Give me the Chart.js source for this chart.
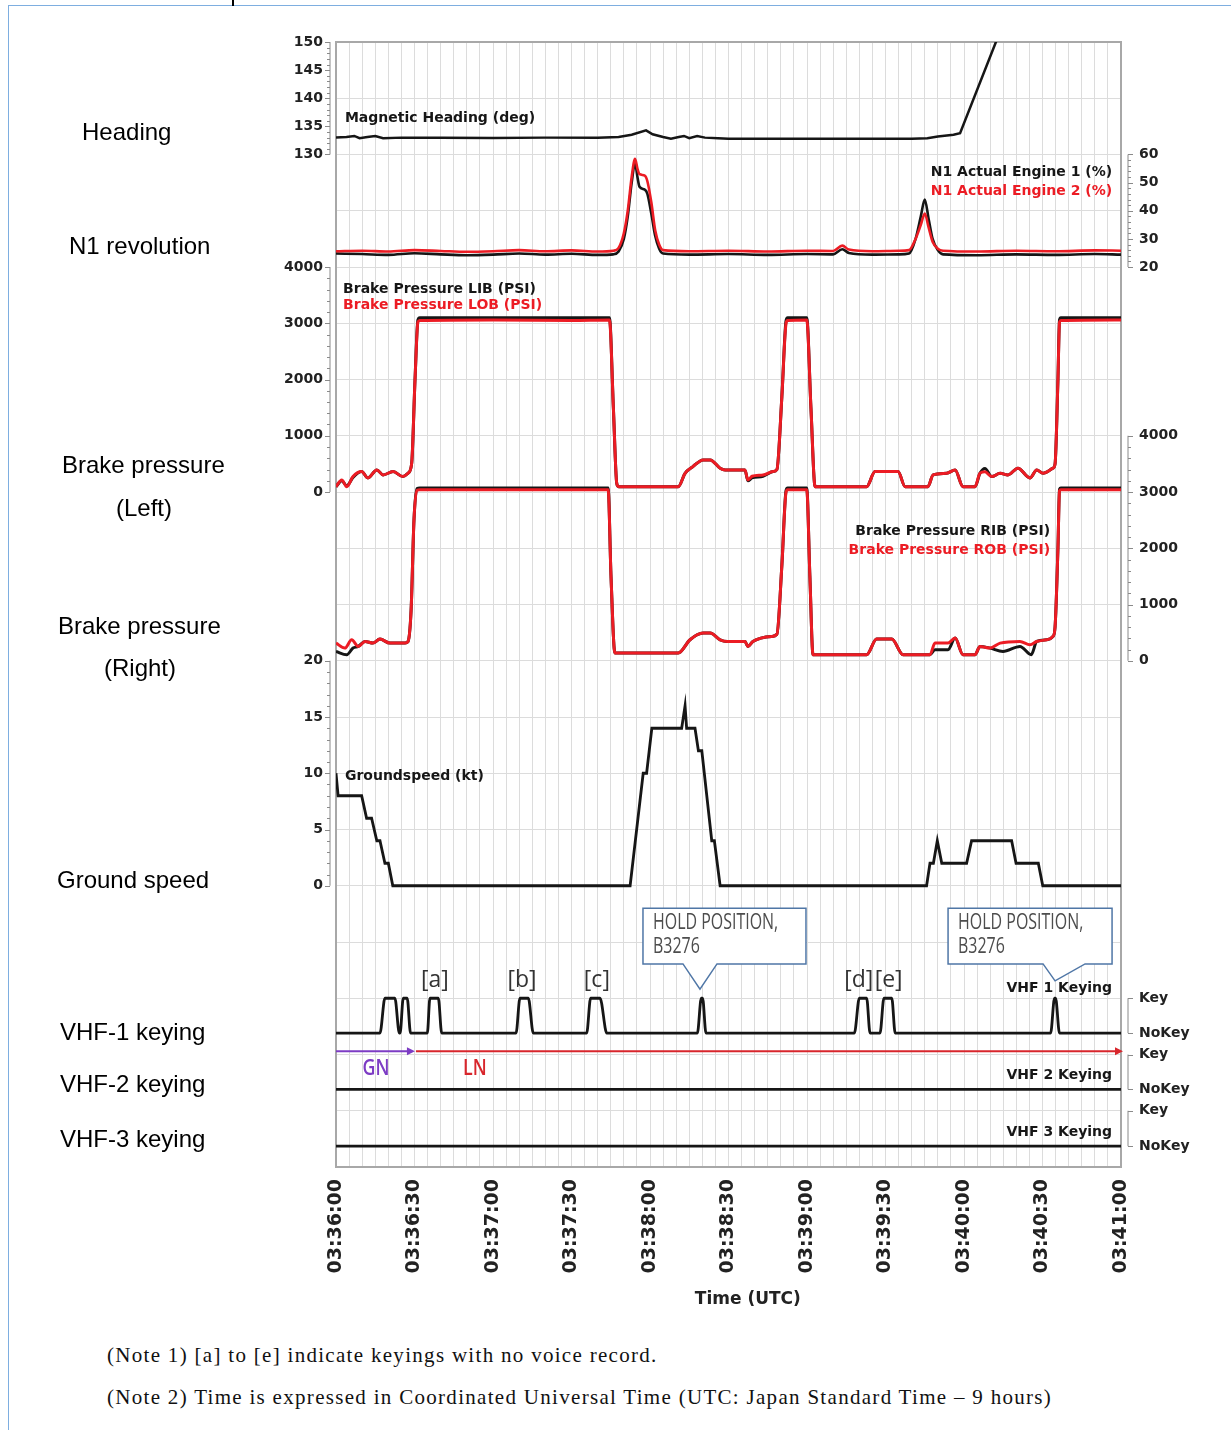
<!DOCTYPE html>
<html lang="en">
<head>
  <meta charset="UTF-8">
  <title>Heading, N1, brake pressure, groundspeed and VHF keying</title>
  <script src="https://cdn.jsdelivr.net/npm/chart.js@4/dist/chart.umd.min.js"></script>
  <style>
    body {
      margin: 0;
      width: 1231px;
      height: 1430px;
      position: relative;
      overflow: hidden;
      background: #fff;
      font-family: "Liberation Sans", Arial, sans-serif;
    }
    .frame {
      position: absolute;
      left: 8px; top: 5px; right: -2px; bottom: -2px;
      border-top: 1.5px solid #7eaee0;
      border-left: 1.5px solid #7eaee0;
    }
    .cellTick {
      position: absolute;
      left: 232px; top: 0;
      width: 2px; height: 6px;
      background: #000;
    }
    #chartBox {
      position: absolute;
      left: 0; top: 0;
    }
    .side {
      position: absolute;
      font-size: 24px;
      line-height: 1;
      color: #000;
      white-space: nowrap;
      transform: translateY(-50%);
    }
    .note {
      position: absolute;
      left: 107px;
      font-family: "Liberation Serif", "Times New Roman", serif;
      font-size: 21px;
      letter-spacing: 1.3px;
      line-height: 1;
      color: #111;
      white-space: nowrap;
      transform: translateY(-50%);
    }
  </style>
</head>
<body>
<div class="frame"></div>
<div class="cellTick"></div>

<div id="chartBox">
  <canvas id="fdrChart" width="1231" height="1330"></canvas>
</div>

<div class="side" style="left:82px; top:132px;">Heading</div>
<div class="side" style="left:69px; top:246px;">N1 revolution</div>
<div class="side" style="left:62px; top:465px;">Brake pressure</div>
<div class="side" style="left:116px; top:508px;">(Left)</div>
<div class="side" style="left:58px; top:626px;">Brake pressure</div>
<div class="side" style="left:104px; top:668px;">(Right)</div>
<div class="side" style="left:57px; top:880px;">Ground speed</div>
<div class="side" style="left:60px; top:1032px;">VHF-1 keying</div>
<div class="side" style="left:60px; top:1084px;">VHF-2 keying</div>
<div class="side" style="left:60px; top:1139px;">VHF-3 keying</div>

<div class="note" style="top:1355px;">(Note 1) [a] to [e] indicate keyings with no voice record.</div>
<div class="note" style="top:1397px;">(Note 2) Time is expressed in Coordinated Universal Time (UTC: Japan Standard Time – 9 hours)</div>

<script>
  // x values are seconds after 03:36:00 UTC
  const timeLabels = ['03:36:00', '03:36:30', '03:37:00', '03:37:30', '03:38:00', '03:38:30',
                      '03:39:00', '03:39:30', '03:40:00', '03:40:30', '03:41:00'];

  const magHeading = [[0,133.0],[4,133.1],[7,133.3],[9,132.9],[12,133.1],[15,133.3],[18,132.9],[25,133.0],
    [40,133.0],[60,132.95],[80,133.0],[100,133.0],[108,133.1],[113,133.5],[118.5,134.3],[121,133.6],
    [125,133.1],[128,132.8],[131,133.1],[133,133.3],[135,132.9],[138,133.3],[141,133.0],[146,132.9],
    [150,132.8],[170,132.8],[200,132.8],[220,132.8],[226,132.9],[230,133.2],[236,133.5],[238.5,133.8],
    [252.2,150],[256,155]];

  const n1Eng1 = [[0,24.8],[10,24.6],[20,24.3],[30,24.9],[40,24.5],[50,24.2],[60,24.4],[70,24.8],[80,24.4],
    [90,24.7],[100,24.3],[106,24.5],[108,25.5],[110,30],[111.5,38],[113,50],[114.3,57],[115.2,52],[116,48.5],
    [118,47.5],[119,46],[120.5,39],[122,31],[123.5,26.5],[125,24.8],[135,24.4],[150,24.6],[165,24.3],
    [180,24.6],[190,24.5],[193.5,26.3],[196,25],[205,24.4],[215,24.5],[219,24.8],[221.5,30],[223.5,38],
    [225,44],[226.5,37],[228,30],[230,26],[232,24.5],[245,24.2],[260,24.5],[275,24.3],[290,24.6],[300,24.4]];
  const n1Eng2 = [[0,25.6],[10,25.8],[20,25.5],[30,26],[40,25.7],[50,25.4],[60,25.6],[70,26],[80,25.6],
    [90,25.9],[100,25.5],[106,25.8],[108,26.8],[110,32],[111.5,40],[113,52],[114.3,58.5],[115.2,55],[116,53],
    [118,52.5],[119,50.5],[120.5,43],[122,33],[123.5,28],[125,26],[135,25.6],[150,25.8],[165,25.5],
    [180,25.8],[190,25.7],[193.5,27.6],[196,26.2],[205,25.6],[215,25.8],[219,26],[221.5,30],[223.5,35],
    [225,39],[226.5,34],[228,29],[230,26.5],[232,25.8],[245,25.5],[260,25.8],[275,25.6],[290,25.9],[300,25.8]];

  const brakeLIB = [[0,95],[2.2,200],[4.1,110],[6.5,260],[9.8,363],[12.2,250],[15.6,393],[18,304],[21.8,363],
    [25.6,274],[27.5,333],[28.9,500],[30.2,2000],[31.3,3060],[32,3100],[60,3100],[90,3100],[104.5,3100],
    [106,1500],[107.3,150],[108,95],[130.8,95],[133.4,333],[136.4,452],[140.3,571],[143,571],[146.8,423],
    [148.7,393],[156.3,393],[157.4,200],[159,250],[163.2,280],[167,363],[168.5,400],[170.4,1700],[172,3050],
    [172.6,3100],[179.9,3100],[181.5,1500],[183.1,95],[202.8,95],[206,363],[214.8,363],[217.5,95],[226.2,95],
    [228.2,304],[233.4,333],[236.6,393],[239.6,95],[244.2,95],[246.1,333],[248,420],[250.6,274],[253.8,333],
    [256.8,304],[260.6,423],[265.2,250],[267.8,393],[270.2,333],[274,423],[274.8,500],[275.9,2000],
    [276.5,3060],[277,3100],[300,3100]];
  const brakeLOB = [[0,95],[2.2,214],[4.1,95],[6.5,274],[9.8,363],[12.2,250],[15.6,393],[18,304],[21.8,363],
    [25.6,274],[27.5,333],[28.9,500],[30.2,2000],[31.3,3020],[32,3050],[60,3060],[90,3050],[104.5,3060],
    [106,1500],[107.3,150],[108,95],[130.8,95],[133.4,333],[136.4,452],[140.3,571],[143,571],[146.8,423],
    [148.7,393],[156.3,393],[157.4,214],[159,280],[163.2,304],[167,363],[168.5,400],[170.4,1700],[172,3000],
    [172.6,3050],[179.9,3060],[181.5,1500],[183.1,95],[202.8,95],[206,363],[214.8,363],[217.5,95],[226.2,95],
    [228.2,304],[233.4,333],[236.6,393],[239.6,95],[244.2,95],[246.1,333],[248,360],[250.6,274],[253.8,333],
    [256.8,304],[260.6,423],[265.2,250],[267.8,393],[270.2,333],[274,423],[274.8,500],[275.9,2000],
    [276.5,3020],[277,3050],[300,3060]];

  const brakeRIB = [[0,166],[4.1,107],[6.5,225],[8.5,254],[11.1,343],[14.1,314],[16.8,385],[20.6,314],[26.4,314],
    [27.5,340],[28.7,900],[29.8,2500],[31,3060],[32,3070],[104,3070],[105.1,1500],[106.6,137],[130.8,137],
    [135.3,373],[140.3,492],[143,492],[146.8,373],[149.5,343],[156.3,343],[157.4,254],[159.3,343],[166.5,432],
    [168.5,470],[170.4,1700],[172,3030],[172.6,3070],[179.9,3070],[181.1,1500],[182.3,107],[202.8,107],
    [206.6,385],[212.4,385],[216.7,107],[227,107],[228.9,196],[233.9,196],[236.6,403],[239.6,107],[244.2,107],
    [246.1,254],[249.9,225],[254.9,166],[261.4,254],[265.7,107],[267.8,343],[271.6,373],[274,432],[274.8,600],
    [275.9,2000],[276.5,3050],[277,3070],[300,3070]];
  const brakeROB = [[0,314],[3.4,225],[6,373],[8.5,254],[11.1,343],[14.1,314],[16.8,385],[20.6,314],[26.4,314],
    [27.5,340],[28.7,900],[29.8,2500],[31,3030],[32,3040],[104,3040],[105.1,1500],[106.6,137],[130.8,137],
    [135.3,373],[140.3,492],[143,492],[146.8,373],[149.5,343],[156.3,343],[157.4,254],[159.3,343],[166.5,432],
    [168.5,470],[170.4,1700],[172,3000],[172.6,3040],[179.9,3040],[181.1,1500],[182.3,107],[202.8,107],
    [206.6,385],[212.4,385],[216.7,107],[227,107],[228.9,314],[233.9,314],[236.6,403],[239.6,107],[244.2,107],
    [246.1,254],[249.9,225],[253.8,314],[261.4,343],[265.2,284],[267.8,343],[271.6,373],[274,432],[274.8,600],
    [275.9,2000],[276.5,3020],[277,3040],[300,3040]];

  const groundspeed = [[0,10],[0.8,8],[9.8,8],[11.7,6],[13.6,6],[15.6,4],[16.8,4],[18.7,2],[20,2],[21.7,0],
    [112.4,0],[117.4,10],[118.7,10],[120.7,14],[132.1,14],[133.4,16],[134,14],[137.2,14],[138.5,12],[139.8,12],
    [143.6,4],[144.6,4],[146.8,0],[225.7,0],[227,2],[228.3,2],[229.8,4],[231.5,2],[241,2],[242.9,4],[258.2,4],
    [259.9,2],[268.4,2],[270.1,0],[300,0]];

  // 1 = Key, 0 = NoKey
  const vhf1Keying = [[0,0],[16.8,0],[18.7,1],[22.5,1],[24.2,0],[24.5,0],[25.7,1],[27.2,1],[28.5,0],
    [34.9,0],[35.9,1],[39.1,1],[40.4,0],[68.8,0],[70.3,1],[73.5,1],[75.4,0],[95.8,0],[97.3,1],[100.9,1],
    [103.5,0],[138.1,0],[139.6,1],[140.1,1],[141.4,0],[198.1,0],[200,1],[202.8,1],[204.1,0],[207.9,0],
    [209.4,1],[212.4,1],[213.7,0],[273.1,0],[274.6,1],[275,1],[276.5,0],[300,0]];
  const vhf2Keying = [[0,0],[300,0]];
  const vhf3Keying = [[0,0],[300,0]];

  const headingTicks = [130, 135, 140, 145, 150];
  const n1Ticks = [20, 30, 40, 50, 60];
  const brakeTicks = [0, 1000, 2000, 3000, 4000];
  const speedTicks = [0, 5, 10, 15, 20];
  const keyTicks = [0, 1];
  const keyNames = ['NoKey', 'Key'];

  const seriesNames = ['Magnetic Heading (deg)', 'N1 Actual Engine 1 (%)', 'N1 Actual Engine 2 (%)',
    'Brake Pressure LIB (PSI)', 'Brake Pressure LOB (PSI)', 'Brake Pressure RIB (PSI)',
    'Brake Pressure ROB (PSI)', 'Groundspeed (kt)', 'VHF 1 Keying', 'VHF 2 Keying', 'VHF 3 Keying'];
  const keyingMarks = ['[a]', '[b]', '[c]', '[d]', '[e]'];
  const holdText = ['HOLD POSITION,', 'B3276'];
  const freqNames = ['GN', 'LN'];
  const xTitle = 'Time (UTC)';

  // ---------- layout ----------
  const BLACK = '#161616', RED = '#ec1c24', PURPLE = '#7d3cc4', LNRED = '#d8262c';
  const ROWS = 20;  // the plot is a 20 row grid, each panel owns a band of rows
  const bands = {
    hdg:  { top: 0,  bot: 2,     vTop: 150,  vBot: 130, side: 'left',  ticks: headingTicks, minor: 5 },
    n1:   { top: 2,  bot: 4,     vTop: 60,   vBot: 20,  side: 'right', ticks: n1Ticks,      minor: 5 },
    brkL: { top: 4,  bot: 8,     vTop: 4000, vBot: 0,   side: 'left',  ticks: brakeTicks,   minor: 5 },
    brkR: { top: 7,  bot: 11,    vTop: 4000, vBot: 0,   side: 'right', ticks: brakeTicks,   minor: 5 },
    gs:   { top: 11, bot: 15,    vTop: 20,   vBot: 0,   side: 'left',  ticks: speedTicks,   minor: 5 },
    vhf1: { top: 17, bot: 17.62, vTop: 1,    vBot: 0,   side: 'right', ticks: keyTicks,     minor: 0, names: keyNames },
    vhf2: { top: 18, bot: 18.62, vTop: 1,    vBot: 0,   side: 'right', ticks: keyTicks,     minor: 0, names: keyNames },
    vhf3: { top: 19, bot: 19.63, vTop: 1,    vBot: 0,   side: 'right', ticks: keyTicks,     minor: 0, names: keyNames }
  };

  // where the in-plot series names sit (time, value on the series' own axis)
  const nameSpots = [
    { axis: 'hdg',  t: 3.4,   v: 136.5, align: 'left',  color: BLACK },
    { axis: 'n1',   t: 296.6, v: 53.6,  align: 'right', color: BLACK },
    { axis: 'n1',   t: 296.6, v: 46.9,  align: 'right', color: RED },
    { axis: 'brkL', t: 2.7,   v: 3607,  align: 'left',  color: BLACK },
    { axis: 'brkL', t: 2.7,   v: 3321,  align: 'left',  color: RED },
    { axis: 'brkR', t: 272.9, v: 2293,  align: 'right', color: BLACK },
    { axis: 'brkR', t: 272.9, v: 1956,  align: 'right', color: RED },
    { axis: 'gs',   t: 3.4,   v: 9.7,   align: 'left',  color: BLACK },
    { axis: 'vhf1', t: 296.6, v: 1.29,  align: 'right', color: BLACK },
    { axis: 'vhf2', t: 296.6, v: 0.41,  align: 'right', color: BLACK },
    { axis: 'vhf3', t: 296.6, v: 0.39,  align: 'right', color: BLACK }
  ];
  const markSpots = [37.8, 71.1, 99.7, 199.8, 211.2];
  const holdSpots = [
    { t: 139.1, left: -57,  right: 106, baseL: -17, baseR: 17, tipRow: 16.84 },
    { t: 274.8, left: -107, right: 57,  baseL: -12, baseR: 30, tipRow: 16.69 }
  ];

  function axisRange(b) {
    const per = (b.vTop - b.vBot) / (b.bot - b.top);
    return { min: b.vBot - (ROWS - b.bot) * per, max: b.vTop + b.top * per };
  }

  // every panel axis spans the whole plot height; only its own band gets a ruler and labels
  function yAxis(id) {
    const r = axisRange(bands[id]);
    return {
      type: 'linear',
      position: bands[id].side,
      min: r.min,
      max: r.max,
      afterFit: s => { s.width = 0; },
      grid: { display: false, drawTicks: false },
      border: { display: false },
      ticks: { display: false }
    };
  }

  function line(data, axis, color, width, order, smooth) {
    return {
      data: data.map(([x, y]) => ({ x, y })),
      yAxisID: axis,
      borderColor: color,
      borderWidth: width,
      pointRadius: 0,
      fill: false,
      cubicInterpolationMode: smooth ? 'monotone' : 'default',
      tension: 0,
      order: order
    };
  }

  function squeezed(ctx, text, x, y, sx, align) {
    ctx.save();
    ctx.translate(x, y);
    ctx.scale(sx, 1);
    ctx.textAlign = align;
    ctx.fillText(text, 0, 0);
    ctx.restore();
  }

  function arrowHead(ctx, x, y, color) {
    ctx.fillStyle = color;
    ctx.beginPath();
    ctx.moveTo(x + 2, y);
    ctx.lineTo(x - 6, y - 4);
    ctx.lineTo(x - 6, y + 4);
    ctx.closePath();
    ctx.fill();
  }

  const decor = {
    id: 'decor',
    beforeDatasetsDraw(chart) {
      const { ctx, chartArea: a, scales } = chart;
      ctx.save();
      ctx.font = 'bold 14px "DejaVu Sans"';
      ctx.textBaseline = 'middle';
      for (const id of Object.keys(bands)) {
        const b = bands[id], s = scales[id];
        const left = b.side === 'left';
        const x0 = left ? a.left - 6 : a.right + 7;
        const dir = left ? -1 : 1;
        // ruler
        ctx.strokeStyle = '#8a8a8a';
        ctx.lineWidth = 1;
        ctx.beginPath();
        ctx.moveTo(x0, s.getPixelForValue(b.vTop));
        ctx.lineTo(x0, s.getPixelForValue(b.vBot));
        b.ticks.forEach(v => {
          const y = Math.round(s.getPixelForValue(v)) + 0.5;
          ctx.moveTo(x0, y);
          ctx.lineTo(x0 + dir * 5, y);
        });
        if (b.minor) {
          const n = (b.ticks.length - 1) * b.minor;
          for (let i = 1; i < n; i++) {
            if (i % b.minor === 0) continue;
            const y = Math.round(s.getPixelForValue(b.vBot + (b.vTop - b.vBot) * i / n)) + 0.5;
            ctx.moveTo(x0, y);
            ctx.lineTo(x0 + dir * 3, y);
          }
        }
        ctx.stroke();
        // tick labels
        ctx.fillStyle = '#222';
        ctx.textAlign = left ? 'right' : 'left';
        const lx = left ? a.left - 13 : a.right + 18;
        b.ticks.forEach((v, i) => {
          ctx.fillText(b.names ? b.names[i] : String(v), lx, s.getPixelForValue(v));
        });
      }
      // plot frame
      ctx.strokeStyle = '#a8a8a8';
      ctx.lineWidth = 2;
      ctx.strokeRect(a.left, a.top, a.right - a.left, a.bottom - a.top);
      ctx.restore();
    },
    afterDatasetsDraw(chart) {
      const { ctx, chartArea: a, scales } = chart;
      const xs = scales.x, g = scales.g;
      ctx.save();
      ctx.textBaseline = 'middle';

      // series names
      ctx.font = 'bold 14px "DejaVu Sans"';
      nameSpots.forEach((p, i) => {
        ctx.fillStyle = p.color;
        ctx.textAlign = p.align;
        ctx.fillText(seriesNames[i], xs.getPixelForValue(p.t), scales[p.axis].getPixelForValue(p.v));
      });

      // GN / LN frequency bar
      const yBar = g.getPixelForValue(17.94);
      const xSwitch = xs.getPixelForValue(29.4);
      ctx.lineWidth = 2;
      ctx.strokeStyle = PURPLE;
      ctx.beginPath(); ctx.moveTo(a.left, yBar); ctx.lineTo(xSwitch - 3, yBar); ctx.stroke();
      arrowHead(ctx, xSwitch, yBar, PURPLE);
      ctx.strokeStyle = LNRED;
      ctx.beginPath(); ctx.moveTo(xSwitch + 3, yBar); ctx.lineTo(a.right - 3, yBar); ctx.stroke();
      arrowHead(ctx, a.right, yBar, LNRED);
      ctx.font = '600 21px "Open Sans"';
      ctx.fillStyle = PURPLE;
      squeezed(ctx, freqNames[0], xs.getPixelForValue(15.3), g.getPixelForValue(18.26), 0.85, 'center');
      ctx.fillStyle = LNRED;
      squeezed(ctx, freqNames[1], xs.getPixelForValue(53.1), g.getPixelForValue(18.26), 0.85, 'center');

      // [a] .. [e]
      ctx.font = '23px "Open Sans"';
      ctx.fillStyle = '#333';
      keyingMarks.forEach((m, i) => {
        squeezed(ctx, m, xs.getPixelForValue(markSpots[i]), g.getPixelForValue(16.68), 1, 'center');
      });

      // HOLD POSITION callouts
      const boxTop = g.getPixelForValue(15.4), boxBot = g.getPixelForValue(16.39);
      holdSpots.forEach(h => {
        const tx = xs.getPixelForValue(h.t), ty = g.getPixelForValue(h.tipRow);
        ctx.beginPath();
        ctx.moveTo(tx + h.left, boxTop);
        ctx.lineTo(tx + h.right, boxTop);
        ctx.lineTo(tx + h.right, boxBot);
        ctx.lineTo(tx + h.baseR, boxBot);
        ctx.lineTo(tx, ty);
        ctx.lineTo(tx + h.baseL, boxBot);
        ctx.lineTo(tx + h.left, boxBot);
        ctx.closePath();
        ctx.fillStyle = '#fff';
        ctx.fill();
        ctx.strokeStyle = '#4f76a6';
        ctx.lineWidth = 1.5;
        ctx.stroke();
        ctx.fillStyle = '#4d4d4d';
        ctx.font = '21px "Open Sans"';
        squeezed(ctx, holdText[0], tx + h.left + 10, boxTop + 15, 0.76, 'left');
        squeezed(ctx, holdText[1], tx + h.left + 10, boxTop + 39, 0.76, 'left');
      });

      // x axis title
      ctx.font = 'bold 17px "DejaVu Sans"';
      ctx.fillStyle = '#222';
      ctx.textAlign = 'center';
      ctx.fillText(xTitle, xs.getPixelForValue(157.4), a.bottom + 133);
      ctx.restore();
    }
  };

  const ctx = document.getElementById('fdrChart').getContext('2d');
  new Chart(ctx, {
    type: 'line',
    data: {
      datasets: [
        line(magHeading, 'hdg', BLACK, 2.5, 0, false),
        line(n1Eng1, 'n1', BLACK, 2.6, 2, true),
        line(n1Eng2, 'n1', RED, 2.6, 1, true),
        line(brakeLIB, 'brkL', BLACK, 3, 2, true),
        line(brakeLOB, 'brkL', RED, 3, 1, true),
        line(brakeRIB, 'brkR', BLACK, 3, 2, true),
        line(brakeROB, 'brkR', RED, 3, 1, true),
        line(groundspeed, 'gs', BLACK, 2.8, 0, false),
        line(vhf1Keying, 'vhf1', BLACK, 2.8, 0, true),
        line(vhf2Keying, 'vhf2', BLACK, 2.8, 0, false),
        line(vhf3Keying, 'vhf3', BLACK, 2.8, 0, false)
      ]
    },
    options: {
      responsive: false,
      animation: false,
      layout: { padding: { left: 336, right: 110, top: 42, bottom: 0 } },
      plugins: { legend: { display: false }, tooltip: { enabled: false } },
      scales: {
        x: {
          type: 'linear',
          min: 0,
          max: 300,
          afterFit: s => { s.height = 163; },
          grid: { color: '#dcdcdc', drawTicks: false },
          border: { display: false },
          ticks: {
            stepSize: 5,
            autoSkip: false,
            maxRotation: 90,
            minRotation: 90,
            padding: 12,
            color: '#222',
            font: { family: 'DejaVu Sans', size: 19, weight: 'bold' },
            callback: v => (v % 30 === 0 ? timeLabels[v / 30] : '')
          }
        },
        g: {
          type: 'linear',
          position: 'left',
          min: 0,
          max: ROWS,
          reverse: true,
          afterFit: s => { s.width = 0; },
          grid: { color: '#dcdcdc', drawTicks: false },
          border: { display: false },
          ticks: { stepSize: 1, display: false }
        },
        hdg: yAxis('hdg'),
        n1: yAxis('n1'),
        brkL: yAxis('brkL'),
        brkR: yAxis('brkR'),
        gs: yAxis('gs'),
        vhf1: yAxis('vhf1'),
        vhf2: yAxis('vhf2'),
        vhf3: yAxis('vhf3')
      }
    },
    plugins: [decor]
  });
</script>
</body>
</html>
